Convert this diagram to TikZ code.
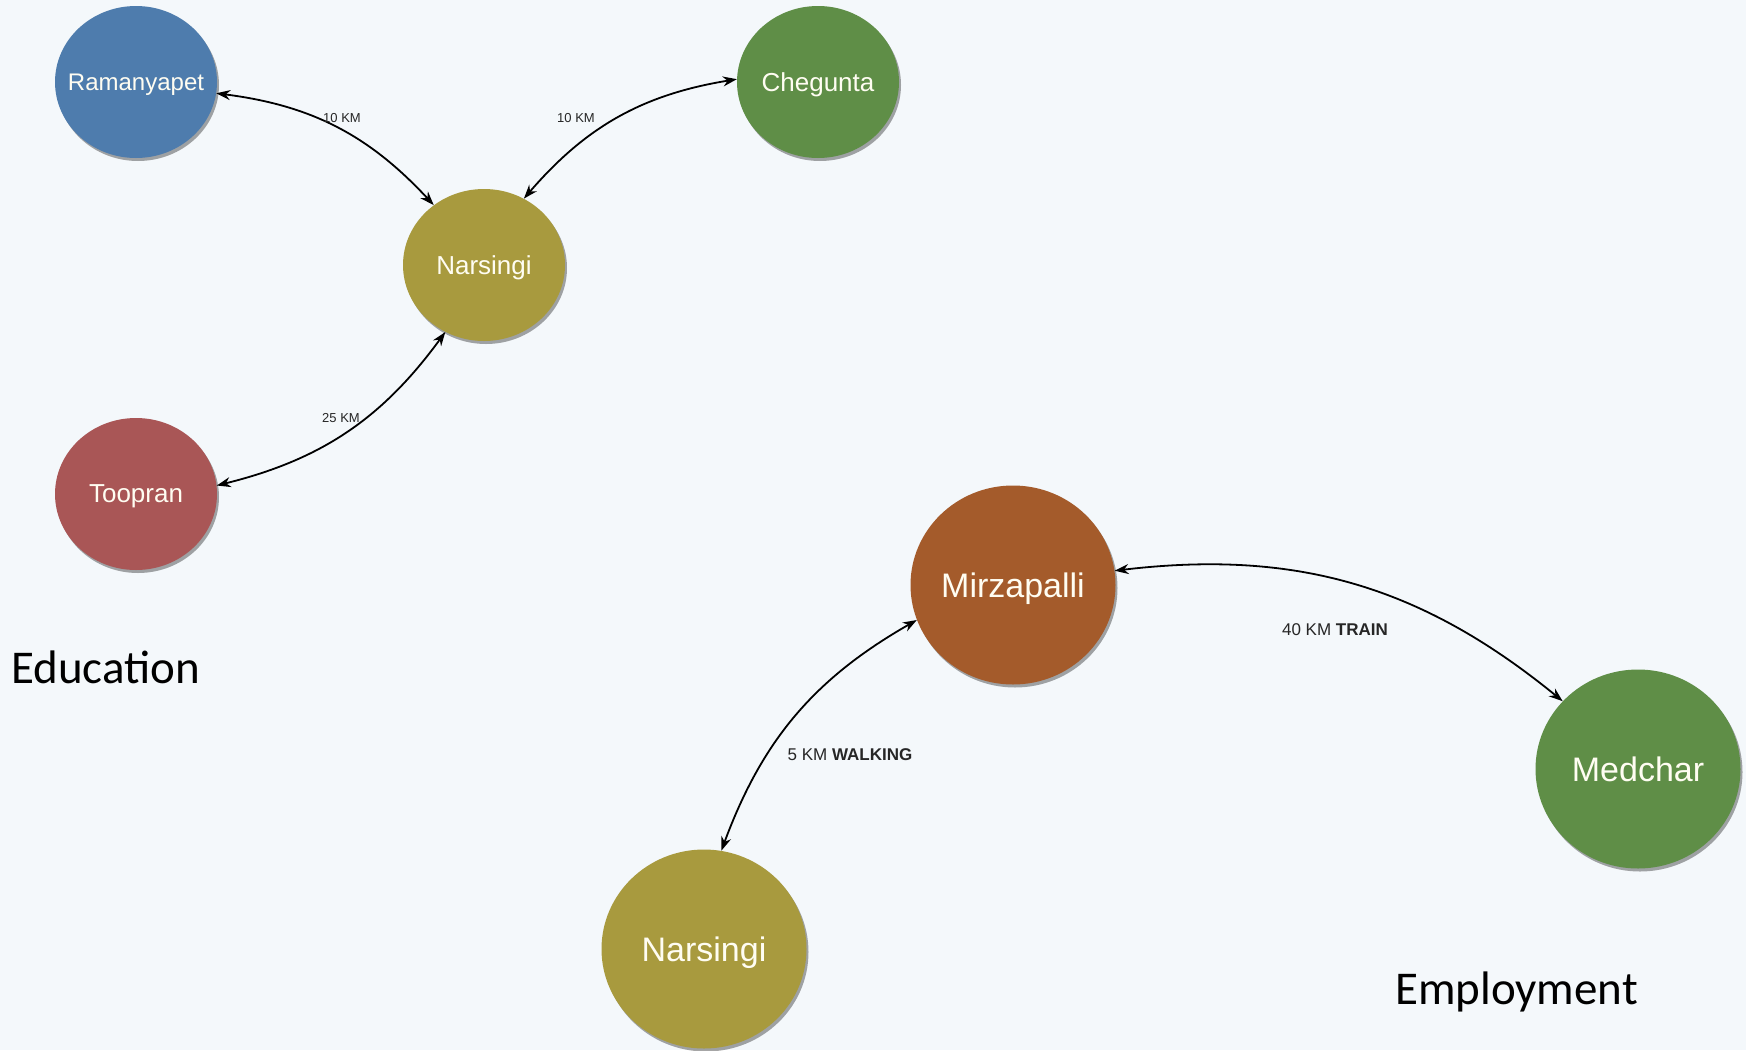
\documentclass[tikz,border=0pt]{standalone}
\usepackage{fontspec}
\setmainfont{Liberation Sans}
\newfontfamily\calibri{Carlito}
\usetikzlibrary{shapes.geometric,arrows.meta,shadows}
\definecolor{bg}{HTML}{F4F8FB}
\definecolor{cblue}{HTML}{4E7CAD}
\definecolor{cgreen}{HTML}{5F8E47}
\definecolor{colive}{HTML}{A89A3E}
\definecolor{cred}{HTML}{A95656}
\definecolor{cbrown}{HTML}{A45B2B}
\definecolor{ctext}{HTML}{FFFDF2}
\tikzset{
  town/.style={ellipse, inner sep=0pt, text=ctext, text depth=0pt,
    drop shadow={shadow xshift=2pt, shadow yshift=-3pt, opacity=0.35, fill=black}},
  small/.style={town, minimum width=162pt, minimum height=152pt, font=\fontsize{26}{30}\selectfont},
  big/.style={town, minimum width=205pt, minimum height=199pt, font=\fontsize{34}{40}\selectfont},
  link/.style={{Stealth[length=14pt,width=10pt]}-{Stealth[length=14pt,width=10pt]}, line width=1.8pt, black},
  dist/.style={font=\fontsize{13}{15}\selectfont, text=black!85, inner sep=0pt},
  distb/.style={font=\fontsize{17}{20}\selectfont, text=black!85, inner sep=0pt},
  heading/.style={font=\calibri\fontsize{47}{56}\selectfont, anchor=base west, inner sep=0pt}
}
\newcommand\tname[1]{\makebox[0pt][c]{#1}}
\begin{document}
\begin{tikzpicture}[x=1pt,y=-1pt]
\fill[bg] (0,0) rectangle (1746,1050);
\useasboundingbox (0,0) rectangle (1746,1050);

\node[small, fill=cblue, font=\fontsize{24}{30}\selectfont] (ram) at (136,82) {\tname{Ramanyapet}};
\node[small, fill=cgreen] (che) at (818,82) {\tname{Chegunta}};
\node[small, fill=colive] (nt) at (484,265) {\tname{Narsingi}};
\node[small, fill=cred] (too) at (136,494) {\tname{Toopran}};
\node[big, fill=cbrown] (mir) at (1013,585) {\tname{Mirzapalli}};
\node[big, fill=cgreen] (med) at (1638,769) {\tname{Medchar}};
\node[big, fill=colive] (nb) at (704,949) {\tname{Narsingi}};

\draw[link] (ram.-8) to[bend left=20] (nt.130);
\draw[link] (che.178) to[bend right=20] (nt.59);
\draw[link] (too.6) to[bend right=20] (nt.240);
\draw[link] (nb.80) to[bend left=20] (mir.200);
\draw[link] (mir.8) to[bend left=23] (med.138);

\node[dist] (l1) at (342,118) {10 KM};
\node[dist] (l2) at (576,118) {10 KM};
\node[dist] (l3) at (341,418) {25 KM};
\node[distb] (l4) at (1335,630) {40 KM \textbf{TRAIN}};
\node[distb] (l5) at (850,755) {5 KM \textbf{WALKING}};

\node[heading] (edu) at (11,683) {Education};
\node[heading] (emp) at (1395,1004) {Employment};
\end{tikzpicture}
\end{document}
